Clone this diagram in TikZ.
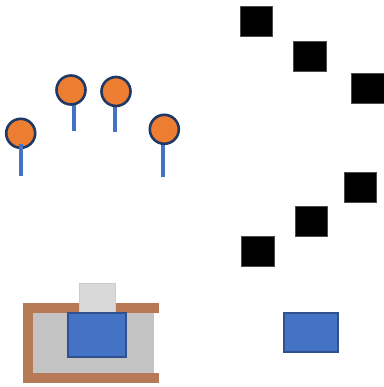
\documentclass[tikz,border=0pt]{standalone}
\usepackage{tikz}
\definecolor{orng}{HTML}{ED7D31}
\definecolor{navy}{HTML}{1F3864}
\definecolor{bluef}{HTML}{4472C4}
\definecolor{blued}{HTML}{2F528F}
\definecolor{brwn}{HTML}{B87A56}
\definecolor{gryA}{HTML}{C3C3C3}
\definecolor{gryB}{HTML}{D9D9D9}
\tikzset{
  pin/.style={fill=orng,draw=navy,line width=2.6pt},
  stick/.style={draw=bluef,line width=4pt},
  blk/.style={fill=black,draw=black!70,line width=0.6pt},
  bluebox/.style={fill=bluef,draw=blued,line width=2pt}
}
\begin{document}
\begin{tikzpicture}[x=1pt,y=-1pt]
\useasboundingbox (0,0) rectangle (383,387);
% pins
\draw[stick] (74,100) -- (74,130.7);
\draw[pin] (71,90) circle (14.5);
\draw[stick] (115,100) -- (115,131.7);
\draw[pin] (116,91.5) circle (14.5);
\draw[stick] (163,140) -- (163,177.3);
\draw[pin] (164.3,129.3) circle (14.5);
\draw[pin] (20.7,133.3) circle (14.5);
\draw[stick] (20.5,144) -- (20.5,176);
% black squares
\draw[blk] (240.5,6.5) rectangle (272.5,36.3);
\draw[blk] (293.5,41.7) rectangle (326,71.7);
\draw[blk] (351.5,73.5) rectangle (384,103.3);
\draw[blk] (344.5,172.5) rectangle (376.7,202.3);
\draw[blk] (295.5,206.7) rectangle (327.7,236.7);
\draw[blk] (241.5,236.5) rectangle (274.7,266.7);
% right blue box
\draw[bluebox] (284.3,313) rectangle (338,351.7);
% bottom left assembly
\draw[brwn,line width=10pt,line join=miter] (159,307.5) -- (27.7,307.5) -- (27.7,378.3) -- (159,378.3);
\fill[gryA] (32.7,312.7) rectangle (154,373.3);
\draw[fill=gryB,draw=black!20,line width=0.8pt] (79.5,283.5) rectangle (115,312.7);
\draw[bluebox] (68.3,312.7) rectangle (126.3,357.3);
\end{tikzpicture}
\end{document}
